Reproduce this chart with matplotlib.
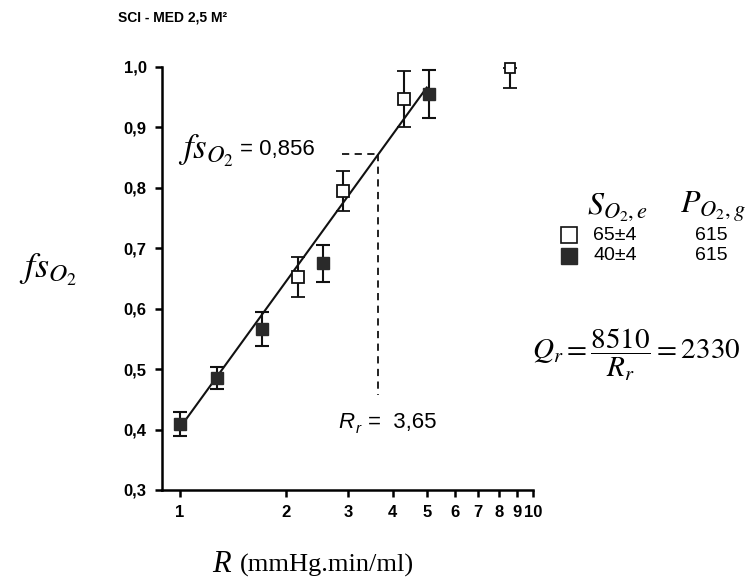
import numpy as np
import matplotlib.pyplot as plt
from matplotlib.lines import Line2D

plt.rcParams['mathtext.fontset'] = 'stix'
plt.rcParams['font.family'] = ['Liberation Sans', 'DejaVu Sans']

# open squares (S_O2,e = 65)
open_R = [2.16, 2.9, 4.31]
open_fs = [0.652, 0.795, 0.947]
open_err = [0.033, 0.033, 0.047]

# filled squares (S_O2,e = 40)
fill_R = [1.0, 1.27, 1.71, 2.54, 5.07]
fill_fs = [0.409, 0.485, 0.566, 0.675, 0.955]
fill_err = [0.02, 0.018, 0.028, 0.03, 0.04]

# outlier open point, lower bar only
out_R = [8.6]
out_fs = [0.998]
out_err_low = [0.033]

# regression line end points
fit_R = [1.02, 5.0]
fit_fs = [0.41, 0.966]

Rr = 3.65
fs_r = 0.856
dash_start_R = 2.87
dash_bottom_fs = 0.457

yticks = [0.3, 0.4, 0.5, 0.6, 0.7, 0.8, 0.9, 1.0]
xticks = [1, 2, 3, 4, 5, 6, 7, 8, 9, 10]

legend_S = ['65\u00b14', '40\u00b14']
legend_P = ['615', '615']

fig = plt.figure(figsize=(7.46, 5.85), dpi=100)
ax = fig.add_axes([0.217, 0.1624, 0.4975, 0.7231])
ax.set_xscale('log')
ax.set_xlim(0.889, 10)
ax.set_ylim(0.3, 1.0)

ax.plot(fit_R, fit_fs, color='#111111', lw=1.5, zorder=2)
ax.plot([dash_start_R, Rr], [fs_r, fs_r], ls=(0, (4, 3)), color='#111111', lw=1.3)
ax.plot([Rr, Rr], [fs_r, dash_bottom_fs], ls=(0, (4, 3)), color='#111111', lw=1.3)

ax.errorbar(fill_R, fill_fs, yerr=fill_err, fmt='s', ms=8, mfc='#2a2a2a', mec='#2a2a2a',
            ecolor='#111111', elinewidth=1.5, capsize=5, capthick=1.5, zorder=3)
ax.errorbar(open_R, open_fs, yerr=open_err, fmt='s', ms=8, mfc='white', mec='#111111',
            mew=1.3, ecolor='#111111', elinewidth=1.5, capsize=5, capthick=1.5, zorder=3)
ax.errorbar(out_R, out_fs, yerr=[out_err_low, [0]], fmt='s', ms=7, mfc='white', mec='#111111',
            mew=1.3, ecolor='#111111', elinewidth=1.5, capsize=5, capthick=2.5,
            zorder=3, clip_on=False)

for s in ['top', 'right']:
    ax.spines[s].set_visible(False)
for s in ['left', 'bottom']:
    ax.spines[s].set_linewidth(1.8)

ax.set_yticks(yticks)
ax.set_yticklabels([f'{v:.1f}'.replace('.', ',') for v in yticks],
                   fontsize=12, fontweight='bold')
ax.xaxis.set_minor_locator(plt.NullLocator())
ax.set_xticks(xticks)
ax.set_xticklabels([str(v) for v in xticks], fontsize=12, fontweight='bold')
ax.tick_params(axis='both', direction='out', length=5, width=1.8, pad=6)

# annotations
ax.text(0.99, fs_r + 0.005, r'$fs_{O_2}$', fontsize=25, va='center', ha='left')
ax.text(1.48, fs_r + 0.008, '= 0,856', fontsize=16, va='center', ha='left')
ax.text(2.80, 0.412, 'R', fontsize=16, style='italic', va='center', ha='left')
ax.text(3.14, 0.401, 'r', fontsize=11, style='italic', va='center', ha='left')
ax.text(3.42, 0.412, '=  3,65', fontsize=16, va='center', ha='left')

fig.text(118 / 746, 1 - 18 / 585, 'SCI - MED 2,5 M\u00b2', fontsize=10, fontweight='bold',
         va='center', ha='left')
fig.text(48 / 746, 1 - 270 / 585, r'$fs_{O_2}$', fontsize=26, va='center', ha='center')
fig.text(212 / 746, 1 - 565 / 585, 'R', fontsize=22, family='Liberation Serif',
         style='italic', va='center', ha='left')
fig.text(240 / 746, 1 - 565 / 585, '(mmHg.min/ml)', fontsize=19, family='Liberation Serif',
         va='center', ha='left')

# legend block
fig.text(587 / 746, 1 - 207 / 585, r'$S_{O_2,e}$', fontsize=23, va='center', ha='left')
fig.text(680 / 746, 1 - 207 / 585, r'$P_{O_2,g}$', fontsize=23, va='center', ha='left')
fig.add_artist(Line2D([569 / 746], [1 - 235 / 585], marker='s', ms=12, mfc='white',
                      mec='#111111', mew=1.2, transform=fig.transFigure))
fig.add_artist(Line2D([569 / 746], [1 - 256 / 585], marker='s', ms=12, mfc='#2a2a2a',
                      mec='#2a2a2a', transform=fig.transFigure))
for i in range(2):
    y = 1 - (235 + 21 * i) / 585
    fig.text(593 / 746, y, legend_S[i], fontsize=14, va='center', ha='left')
    fig.text(695 / 746, y, legend_P[i], fontsize=14, va='center', ha='left')

fig.text(636 / 746, 1 - 355 / 585, r'$Q_r = \dfrac{8510}{R_r} = 2330$', fontsize=21,
         va='center', ha='center')

fig.savefig('out.png', dpi=100)
